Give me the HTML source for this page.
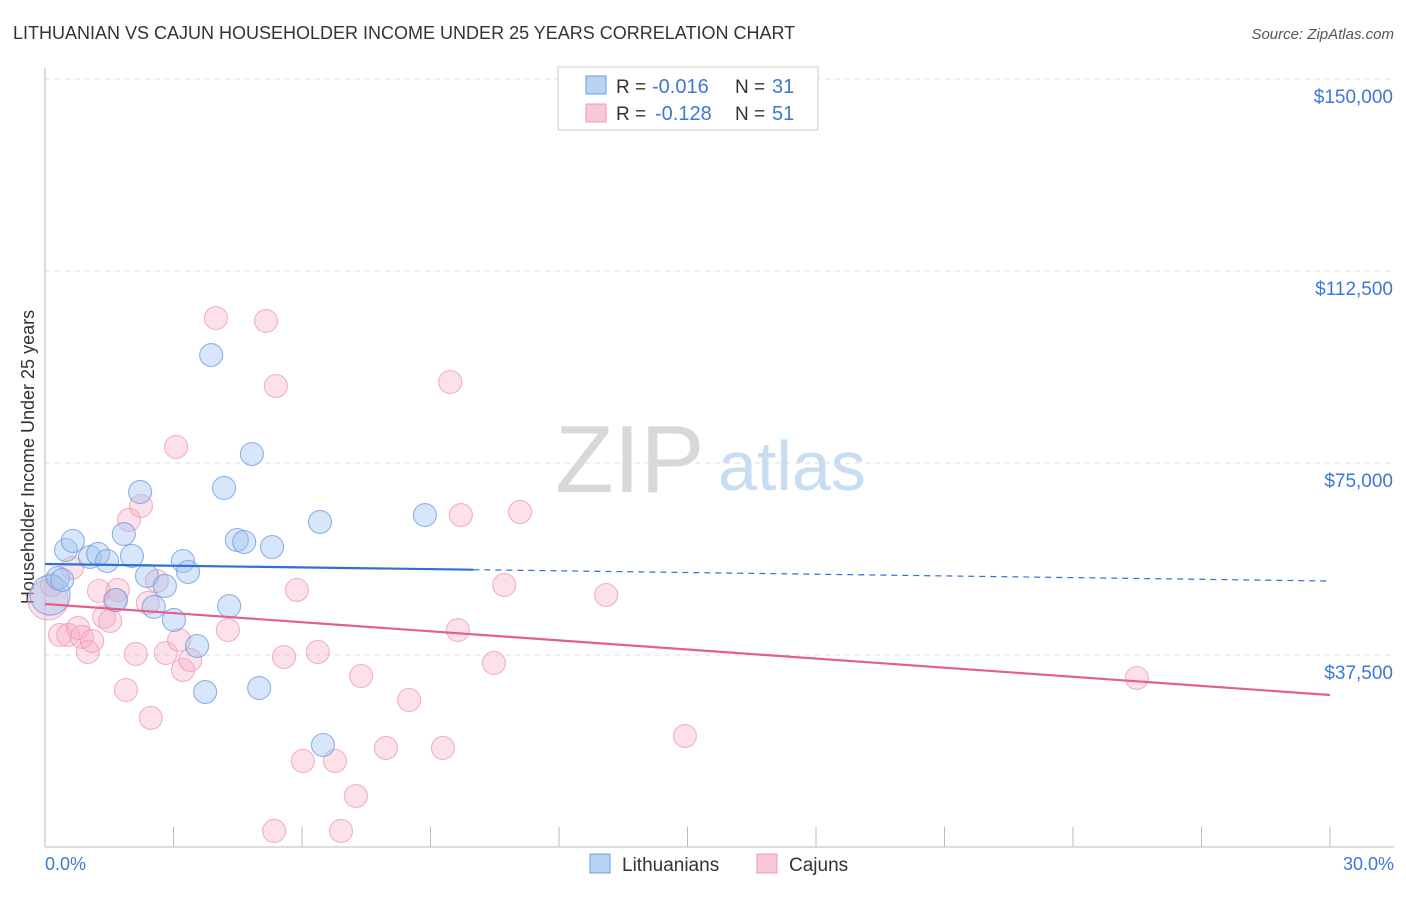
<!DOCTYPE html>
<html><head><meta charset="utf-8"><style>
body{margin:0;background:#fff;font-family:"Liberation Sans",sans-serif}
svg text{font-family:"Liberation Sans",sans-serif}
</style></head><body>
<svg id="chart" width="1406" height="892">
<text x="13" y="39" font-size="18" fill="#333">LITHUANIAN VS CAJUN HOUSEHOLDER INCOME UNDER 25 YEARS CORRELATION CHART</text>
<text x="1394" y="39" font-size="15" fill="#555" font-style="italic" text-anchor="end">Source: ZipAtlas.com</text>
<g id="grid"></g>
<text x="555" y="492" font-size="96" fill="#d8d8d8" font-family="Liberation Serif">ZIP</text>
<text x="718" y="490" font-size="70" fill="#c8dcf2">atlas</text>
<line x1="45" y1="68" x2="45" y2="847" stroke="#bbb"/>
<line x1="45" y1="847" x2="1394" y2="847" stroke="#bbb"/>
<g id="ticks"></g>
<text x="34" y="457" font-size="18" fill="#333" text-anchor="middle" transform="rotate(-90 34 457)">Householder Income Under 25 years</text>
<text x="45" y="870" font-size="18" fill="#3b78d8">0.0%</text>
<text x="1394" y="870" font-size="18" fill="#3b78d8" text-anchor="end">30.0%</text>
<g id="points"></g>
<g id="trends"></g>
<g>
<rect x="558" y="67" width="260" height="63" fill="#fff" stroke="#ccc"/>
<rect x="586" y="76" width="20" height="18" fill="#b9d3f5" stroke="#6b9be0"/>
<text x="616" y="93" font-size="19" fill="#333">R =</text>
<text x="652" y="93" font-size="20" fill="#3b78d8">-0.016</text>
<text x="735" y="93" font-size="19" fill="#333">N =</text>
<text x="772" y="93" font-size="20" fill="#3b78d8">31</text>
<rect x="586" y="104" width="20" height="18" fill="#f9c8d8" stroke="#ee9ab4"/>
<text x="616" y="120" font-size="19" fill="#333">R =</text>
<text x="655" y="120" font-size="20" fill="#3b78d8">-0.128</text>
<text x="735" y="120" font-size="19" fill="#333">N =</text>
<text x="772" y="120" font-size="20" fill="#3b78d8">51</text>
</g>
<g><rect x="590" y="854" width="20" height="19" fill="#b9d3f5" stroke="#6b9be0"/><text x="622" y="871" font-size="19" fill="#333">Lithuanians</text></g>
<g><rect x="757" y="854" width="20" height="19" fill="#f9c8d8" stroke="#ee9ab4"/><text x="789" y="871" font-size="19" fill="#333">Cajuns</text></g>
</svg>
<script>
const yTicks=[37500,75000,112500,150000];
const yTickLabels=["$37,500","$75,000","$112,500","$150,000"];
const xTicks=[0,3,6,9,12,15,18,21,24,27,30];
const blueX=[0.12,0.30,0.49,0.65,1.05,1.24,1.45,1.66,1.84,2.03,2.22,2.38,2.54,2.80,3.01,3.22,3.34,3.55,3.74,3.88,4.18,4.30,4.48,4.65,4.83,5.00,5.30,6.42,6.49,8.87,0.40];
const blueY=[49200,52540,58010,59770,56640,57230,55860,48240,61130,56840,69340,52930,46880,50980,44340,55860,53710,39260,30270,96090,70120,47070,59960,59570,76760,31050,58590,63480,19920,64840,52150];
const pinkX=[0.07,0.16,0.35,0.54,0.63,0.77,0.86,1.00,1.10,1.26,1.38,1.52,1.63,1.70,1.89,1.96,2.12,2.24,2.40,2.47,2.61,2.82,3.06,3.13,3.22,3.39,3.99,4.27,5.16,5.35,5.39,5.58,5.88,6.02,6.37,6.77,6.91,7.26,7.38,7.96,8.50,9.29,9.46,9.64,9.71,10.48,10.72,11.09,13.10,14.94,25.49];
const pinkY=[48240,51170,41410,41410,54490,42770,41020,38090,40230,50000,44920,44140,48240,50200,30660,63870,37700,66600,47660,25200,51950,37890,78130,40430,34570,36520,103320,42380,102730,3130,90040,37110,50200,16800,38090,16800,3130,9960,33400,19340,28710,19340,90820,42380,64840,35940,51170,65430,49220,21680,33010];
const blueTrend=[55270,51950];
const pinkTrend=[47460,29690];
const NS="http://www.w3.org/2000/svg";
const sx=v=>45+v/30*1285;
const sy=v=>847-v/37500*192;
function mk(t,a,p){const e=document.createElementNS(NS,t);for(const k in a)e.setAttribute(k,a[k]);p.appendChild(e);return e;}
const gridG=document.getElementById('grid'),tickG=document.getElementById('ticks');
yTicks.forEach((v,i)=>{
 const l=mk('line',{x1:45,x2:1394,y1:sy(v),y2:sy(v),stroke:'#ddd','stroke-dasharray':'5,5'},gridG);
 
 
 const t=mk('text',{x:1393,y:sy(v)+24,'font-size':19,fill:'#3b78d8','text-anchor':'end'},gridG);
 t.textContent=yTickLabels[i];
 
 
});
const topLine=mk('line',{x1:45,x2:1394,y1:79,y2:79,stroke:'#ddd','stroke-dasharray':'5,5'},gridG);


xTicks.forEach(v=>{
 const l=mk('line',{x1:sx(v),x2:sx(v),y1:827,y2:847,stroke:'#bbb'},tickG);
 
 
});
const ptsG=document.getElementById('points');
function draw(xs,ys,fill,stroke,name){
 xs.forEach((x,i)=>{
  const c=mk('circle',{cx:sx(x),cy:sy(ys[i]),r:i===0?20:11.5,fill:fill,stroke:stroke,'stroke-width':1.1,'stroke-opacity':0.75},ptsG);
  
  
 });
}
draw(pinkX,pinkY,'rgba(245,170,195,0.35)','#ee9ab4','cajun-point');
draw(blueX,blueY,'rgba(160,195,240,0.42)','#6b9be0','lithuanian-point');
const trG=document.getElementById('trends');
const bx=10.0, by=blueTrend[0]+(blueTrend[1]-blueTrend[0])*bx/30;
const l1=mk('line',{x1:sx(0),y1:sy(blueTrend[0]),x2:sx(bx),y2:sy(by),stroke:'#2f6fd6','stroke-width':2.2},trG);


const l2=mk('line',{x1:sx(bx),y1:sy(by),x2:sx(30),y2:sy(blueTrend[1]),stroke:'#2f6fd6','stroke-width':1.2,'stroke-dasharray':'6,5'},trG);


const l3=mk('line',{x1:sx(0),y1:sy(pinkTrend[0]),x2:sx(30),y2:sy(pinkTrend[1]),stroke:'#e4608c','stroke-width':2.2},trG);


</script>
</body></html>
